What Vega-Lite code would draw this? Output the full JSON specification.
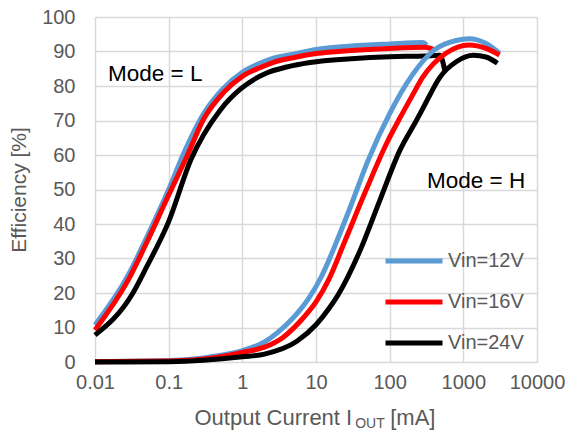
{
  "$schema": "https://vega.github.io/schema/vega-lite/v6.json",
  "width": 442,
  "height": 345,
  "autosize": "none",
  "padding": {"left": 95, "top": 17, "right": 32, "bottom": 76},
  "background": "white",
  "config": {
    "font": "Liberation Sans",
    "view": {"stroke": null},
    "axis": {"labelFont": "Liberation Sans", "titleFont": "Liberation Sans"}
  },
  "layer": [
    {
      "data": {"values": [
        {"s":"Vin=12V","m":"L","x":0.01,"y":10.7},
        {"s":"Vin=12V","m":"L","x":0.0283,"y":25.2},
        {"s":"Vin=12V","m":"L","x":0.05,"y":36},
        {"s":"Vin=12V","m":"L","x":0.1,"y":50},
        {"s":"Vin=12V","m":"L","x":0.158,"y":60.2},
        {"s":"Vin=12V","m":"L","x":0.295,"y":71.8},
        {"s":"Vin=12V","m":"L","x":0.55,"y":79.3},
        {"s":"Vin=12V","m":"L","x":1.0,"y":84.0},
        {"s":"Vin=12V","m":"L","x":1.73,"y":86.6},
        {"s":"Vin=12V","m":"L","x":2.6,"y":88.0},
        {"s":"Vin=12V","m":"L","x":4.9,"y":89.2},
        {"s":"Vin=12V","m":"L","x":10,"y":90.6},
        {"s":"Vin=12V","m":"L","x":30,"y":91.6},
        {"s":"Vin=12V","m":"L","x":100,"y":92.2},
        {"s":"Vin=12V","m":"L","x":280,"y":92.6},
        {"s":"Vin=12V","m":"L","x":320,"y":91.8},
        {"s":"Vin=16V","m":"L","x":0.01,"y":9.3},
        {"s":"Vin=16V","m":"L","x":0.0283,"y":23.8},
        {"s":"Vin=16V","m":"L","x":0.05,"y":34.5},
        {"s":"Vin=16V","m":"L","x":0.1,"y":48.4},
        {"s":"Vin=16V","m":"L","x":0.176,"y":59.5},
        {"s":"Vin=16V","m":"L","x":0.3,"y":70.5},
        {"s":"Vin=16V","m":"L","x":0.55,"y":78},
        {"s":"Vin=16V","m":"L","x":1.0,"y":82.8},
        {"s":"Vin=16V","m":"L","x":1.73,"y":85.3},
        {"s":"Vin=16V","m":"L","x":2.6,"y":86.8},
        {"s":"Vin=16V","m":"L","x":4.9,"y":88.2},
        {"s":"Vin=16V","m":"L","x":10,"y":89.4},
        {"s":"Vin=16V","m":"L","x":30,"y":90.3},
        {"s":"Vin=16V","m":"L","x":100,"y":90.9},
        {"s":"Vin=16V","m":"L","x":300,"y":91.2},
        {"s":"Vin=16V","m":"L","x":390,"y":90.6},
        {"s":"Vin=24V","m":"L","x":0.01,"y":7.8},
        {"s":"Vin=24V","m":"L","x":0.0315,"y":19.4},
        {"s":"Vin=24V","m":"L","x":0.05,"y":27.5},
        {"s":"Vin=24V","m":"L","x":0.1,"y":40.7},
        {"s":"Vin=24V","m":"L","x":0.2,"y":58.6},
        {"s":"Vin=24V","m":"L","x":0.5,"y":73.0},
        {"s":"Vin=24V","m":"L","x":0.93,"y":79.0},
        {"s":"Vin=24V","m":"L","x":2.1,"y":83.7},
        {"s":"Vin=24V","m":"L","x":4,"y":85.5},
        {"s":"Vin=24V","m":"L","x":8.3,"y":86.8},
        {"s":"Vin=24V","m":"L","x":30,"y":87.9},
        {"s":"Vin=24V","m":"L","x":100,"y":88.5},
        {"s":"Vin=24V","m":"L","x":300,"y":88.7},
        {"s":"Vin=24V","m":"L","x":480,"y":88.9},
        {"s":"Vin=24V","m":"L","x":560,"y":84.5},
        {"s":"Vin=12V","m":"H","x":0.01,"y":0.1},
        {"s":"Vin=12V","m":"H","x":0.1,"y":0.4},
        {"s":"Vin=12V","m":"H","x":0.3,"y":1.2},
        {"s":"Vin=12V","m":"H","x":0.67,"y":2.4},
        {"s":"Vin=12V","m":"H","x":1,"y":3.3},
        {"s":"Vin=12V","m":"H","x":2,"y":5.8},
        {"s":"Vin=12V","m":"H","x":3,"y":8.5},
        {"s":"Vin=12V","m":"H","x":5,"y":13},
        {"s":"Vin=12V","m":"H","x":8,"y":18.5},
        {"s":"Vin=12V","m":"H","x":12,"y":25},
        {"s":"Vin=12V","m":"H","x":20,"y":36},
        {"s":"Vin=12V","m":"H","x":30,"y":45.5},
        {"s":"Vin=12V","m":"H","x":50,"y":58},
        {"s":"Vin=12V","m":"H","x":100,"y":72},
        {"s":"Vin=12V","m":"H","x":200,"y":83},
        {"s":"Vin=12V","m":"H","x":400,"y":90.4},
        {"s":"Vin=12V","m":"H","x":800,"y":93.2},
        {"s":"Vin=12V","m":"H","x":1200,"y":93.7},
        {"s":"Vin=12V","m":"H","x":2000,"y":92.4},
        {"s":"Vin=12V","m":"H","x":3100,"y":89.5},
        {"s":"Vin=16V","m":"H","x":0.01,"y":0.1},
        {"s":"Vin=16V","m":"H","x":0.1,"y":0.3},
        {"s":"Vin=16V","m":"H","x":0.3,"y":0.9},
        {"s":"Vin=16V","m":"H","x":0.67,"y":2.0},
        {"s":"Vin=16V","m":"H","x":1,"y":2.8},
        {"s":"Vin=16V","m":"H","x":2,"y":4.3},
        {"s":"Vin=16V","m":"H","x":3.6,"y":7.2},
        {"s":"Vin=16V","m":"H","x":6.6,"y":12.6},
        {"s":"Vin=16V","m":"H","x":10,"y":17.4},
        {"s":"Vin=16V","m":"H","x":15,"y":24},
        {"s":"Vin=16V","m":"H","x":24,"y":34.4},
        {"s":"Vin=16V","m":"H","x":48,"y":49.9},
        {"s":"Vin=16V","m":"H","x":91,"y":63.4},
        {"s":"Vin=16V","m":"H","x":140,"y":71},
        {"s":"Vin=16V","m":"H","x":200,"y":77},
        {"s":"Vin=16V","m":"H","x":280,"y":82.5},
        {"s":"Vin=16V","m":"H","x":580,"y":89.5},
        {"s":"Vin=16V","m":"H","x":1200,"y":91.9},
        {"s":"Vin=16V","m":"H","x":2030,"y":90.9},
        {"s":"Vin=16V","m":"H","x":3100,"y":89.0},
        {"s":"Vin=24V","m":"H","x":0.01,"y":0.0},
        {"s":"Vin=24V","m":"H","x":0.1,"y":0.1},
        {"s":"Vin=24V","m":"H","x":0.3,"y":0.5},
        {"s":"Vin=24V","m":"H","x":1,"y":1.5},
        {"s":"Vin=24V","m":"H","x":2,"y":2.3},
        {"s":"Vin=24V","m":"H","x":5.5,"y":6.0},
        {"s":"Vin=24V","m":"H","x":10,"y":10.8},
        {"s":"Vin=24V","m":"H","x":15,"y":15.5},
        {"s":"Vin=24V","m":"H","x":20,"y":19.5},
        {"s":"Vin=24V","m":"H","x":40,"y":32.5},
        {"s":"Vin=24V","m":"H","x":74,"y":47.0},
        {"s":"Vin=24V","m":"H","x":138,"y":61.4},
        {"s":"Vin=24V","m":"H","x":232,"y":70.1},
        {"s":"Vin=24V","m":"H","x":316,"y":75.5},
        {"s":"Vin=24V","m":"H","x":480,"y":82.5},
        {"s":"Vin=24V","m":"H","x":810,"y":87.1},
        {"s":"Vin=24V","m":"H","x":1370,"y":88.9},
        {"s":"Vin=24V","m":"H","x":2030,"y":88.4},
        {"s":"Vin=24V","m":"H","x":2900,"y":86.6}
      ]},
      "mark": {"type": "line", "strokeWidth": 5, "interpolate": "monotone", "strokeCap": "butt", "strokeJoin": "round"},
      "encoding": {
        "x": {"field": "x", "type": "quantitative",
          "scale": {"type": "log", "domain": [0.01, 10000], "nice": false},
          "axis": {"values": [0.01, 0.1, 1, 10, 100, 1000, 10000],
            "labelExpr": "datum.value < 1 ? format(datum.value, '.2~f') : format(datum.value, 'd')",
            "title": null, "grid": true, "gridColor": "#d9d9d9", "gridWidth": 1.5,
            "domain": false, "ticks": false, "labelFontSize": 20, "labelColor": "#595959",
            "labelPadding": 10, "labelFlush": false, "labelOverlap": false, "labelBound": false}},
        "y": {"field": "y", "type": "quantitative",
          "scale": {"domain": [0, 100], "nice": false},
          "axis": {"values": [0, 10, 20, 30, 40, 50, 60, 70, 80, 90, 100],
            "title": "Efficiency [%]", "titleFontSize": 21, "titleColor": "#595959", "titleFontWeight": "normal",
            "titlePadding": 12, "grid": true, "gridColor": "#d9d9d9", "gridWidth": 1.5,
            "domain": false, "ticks": false, "labelFontSize": 20, "labelColor": "#595959",
            "labelPadding": 20, "labelFlush": false, "labelOverlap": false}},
        "color": {"field": "s", "type": "nominal",
          "scale": {"domain": ["Vin=12V", "Vin=16V", "Vin=24V"], "range": ["#5b9bd5", "#ff0000", "#000000"]},
          "legend": {"title": null, "orient": "none", "legendX": 288, "legendY": 213,
            "symbolType": "stroke", "symbolSize": 3249, "symbolStrokeWidth": 5,
            "labelFontSize": 20, "labelColor": "#595959", "labelOffset": 3, "rowPadding": -23, "padding": 0}},
        "detail": {"field": "m", "type": "nominal"}
      }
    },
    {
      "data": {"values": [
        {"x": 0.0150, "y": 83.5, "label": "Mode = L"},
        {"x": 321, "y": 52.5, "label": "Mode = H"}
      ]},
      "mark": {"type": "text", "align": "left", "baseline": "middle", "fontSize": 22.5, "color": "#000000"},
      "encoding": {
        "x": {"field": "x", "type": "quantitative",
          "scale": {"type": "log", "domain": [0.01, 10000], "nice": false},
          "axis": {"values": [0.01, 0.1, 1, 10, 100, 1000, 10000],
            "labelExpr": "datum.value < 1 ? format(datum.value, '.2~f') : format(datum.value, 'd')",
            "title": null, "grid": true, "gridColor": "#d9d9d9", "gridWidth": 1.5,
            "domain": false, "ticks": false, "labelFontSize": 20, "labelColor": "#595959",
            "labelPadding": 10, "labelFlush": false, "labelOverlap": false, "labelBound": false}},
        "y": {"field": "y", "type": "quantitative",
          "scale": {"domain": [0, 100], "nice": false},
          "axis": {"values": [0, 10, 20, 30, 40, 50, 60, 70, 80, 90, 100],
            "title": "Efficiency [%]", "titleFontSize": 21, "titleColor": "#595959", "titleFontWeight": "normal",
            "titlePadding": 12, "grid": true, "gridColor": "#d9d9d9", "gridWidth": 1.5,
            "domain": false, "ticks": false, "labelFontSize": 20, "labelColor": "#595959",
            "labelPadding": 20, "labelFlush": false, "labelOverlap": false}},
        "text": {"field": "label"}
      }
    },
    {
      "data": {"values": [{}]},
      "mark": {"type": "text", "align": "right", "baseline": "middle", "fontSize": 22, "color": "#595959", "text": "Output Current I", "clip": false},
      "encoding": {
        "x": {"datum": 31, "type": "quantitative",
          "scale": {"type": "log", "domain": [0.01, 10000], "nice": false},
          "axis": {"values": [0.01, 0.1, 1, 10, 100, 1000, 10000],
            "labelExpr": "datum.value < 1 ? format(datum.value, '.2~f') : format(datum.value, 'd')",
            "title": null, "grid": true, "gridColor": "#d9d9d9", "gridWidth": 1.5,
            "domain": false, "ticks": false, "labelFontSize": 20, "labelColor": "#595959",
            "labelPadding": 10, "labelFlush": false, "labelOverlap": false, "labelBound": false}},
        "y": {"datum": -16.2, "type": "quantitative",
          "scale": {"domain": [0, 100], "nice": false},
          "axis": {"values": [0, 10, 20, 30, 40, 50, 60, 70, 80, 90, 100],
            "title": "Efficiency [%]", "titleFontSize": 21, "titleColor": "#595959", "titleFontWeight": "normal",
            "titlePadding": 12, "grid": true, "gridColor": "#d9d9d9", "gridWidth": 1.5,
            "domain": false, "ticks": false, "labelFontSize": 20, "labelColor": "#595959",
            "labelPadding": 20, "labelFlush": false, "labelOverlap": false}}
      }
    },
    {
      "data": {"values": [{}]},
      "mark": {"type": "text", "align": "left", "baseline": "middle", "fontSize": 14, "color": "#595959", "text": "OUT", "dx": 3, "dy": 6, "clip": false},
      "encoding": {
        "x": {"datum": 31, "type": "quantitative",
          "scale": {"type": "log", "domain": [0.01, 10000], "nice": false},
          "axis": {"values": [0.01, 0.1, 1, 10, 100, 1000, 10000],
            "labelExpr": "datum.value < 1 ? format(datum.value, '.2~f') : format(datum.value, 'd')",
            "title": null, "grid": true, "gridColor": "#d9d9d9", "gridWidth": 1.5,
            "domain": false, "ticks": false, "labelFontSize": 20, "labelColor": "#595959",
            "labelPadding": 10, "labelFlush": false, "labelOverlap": false, "labelBound": false}},
        "y": {"datum": -16.2, "type": "quantitative",
          "scale": {"domain": [0, 100], "nice": false},
          "axis": {"values": [0, 10, 20, 30, 40, 50, 60, 70, 80, 90, 100],
            "title": "Efficiency [%]", "titleFontSize": 21, "titleColor": "#595959", "titleFontWeight": "normal",
            "titlePadding": 12, "grid": true, "gridColor": "#d9d9d9", "gridWidth": 1.5,
            "domain": false, "ticks": false, "labelFontSize": 20, "labelColor": "#595959",
            "labelPadding": 20, "labelFlush": false, "labelOverlap": false}}
      }
    },
    {
      "data": {"values": [{}]},
      "mark": {"type": "text", "align": "left", "baseline": "middle", "fontSize": 22, "color": "#595959", "text": "[mA]", "dx": 38, "clip": false},
      "encoding": {
        "x": {"datum": 31, "type": "quantitative",
          "scale": {"type": "log", "domain": [0.01, 10000], "nice": false},
          "axis": {"values": [0.01, 0.1, 1, 10, 100, 1000, 10000],
            "labelExpr": "datum.value < 1 ? format(datum.value, '.2~f') : format(datum.value, 'd')",
            "title": null, "grid": true, "gridColor": "#d9d9d9", "gridWidth": 1.5,
            "domain": false, "ticks": false, "labelFontSize": 20, "labelColor": "#595959",
            "labelPadding": 10, "labelFlush": false, "labelOverlap": false, "labelBound": false}},
        "y": {"datum": -16.2, "type": "quantitative",
          "scale": {"domain": [0, 100], "nice": false},
          "axis": {"values": [0, 10, 20, 30, 40, 50, 60, 70, 80, 90, 100],
            "title": "Efficiency [%]", "titleFontSize": 21, "titleColor": "#595959", "titleFontWeight": "normal",
            "titlePadding": 12, "grid": true, "gridColor": "#d9d9d9", "gridWidth": 1.5,
            "domain": false, "ticks": false, "labelFontSize": 20, "labelColor": "#595959",
            "labelPadding": 20, "labelFlush": false, "labelOverlap": false}}
      }
    }
  ]
}
